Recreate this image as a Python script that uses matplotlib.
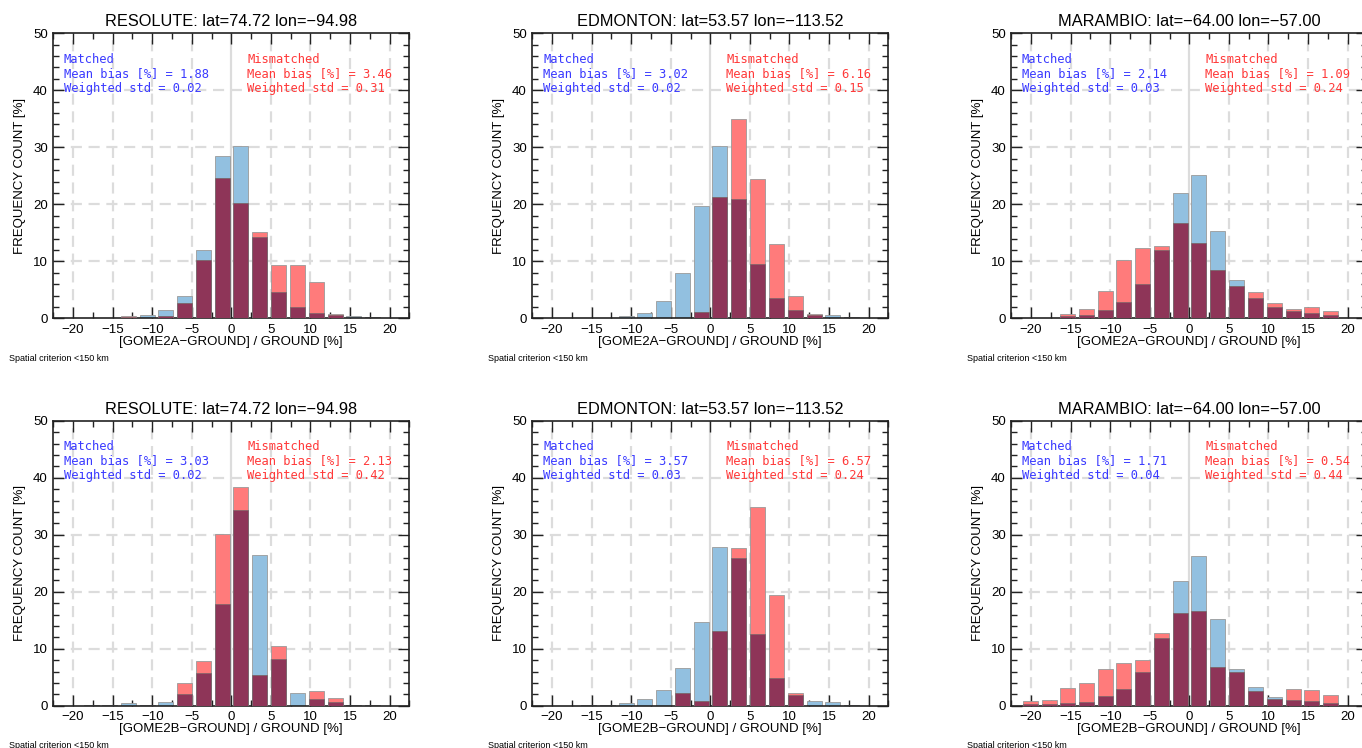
import numpy as np
import matplotlib
matplotlib.use("Agg")
import matplotlib.pyplot as plt
from matplotlib.ticker import MultipleLocator

plt.rcParams['font.family'] = ['Liberation Sans', 'DejaVu Sans']

# ---------------- data ----------------
bin_centers = [-20.1, -17.7, -15.4, -13.0, -10.6, -8.3, -5.9, -3.5, -1.1,
               1.2, 3.6, 6.0, 8.4, 10.8, 13.2, 15.5, 17.9]

stations = ["RESOLUTE: lat=74.72 lon=\u221294.98",
            "EDMONTON: lat=53.57 lon=\u2212113.52",
            "MARAMBIO: lat=\u221264.00 lon=\u221257.00"]
instruments = ["GOME2A", "GOME2B"]

# GOME2A row
res_a_matched    = [0.0, 0.1, 0.1, 0.2, 0.5, 1.5, 3.9, 12.0, 28.4, 30.2, 14.3, 4.6, 2.0, 0.9, 0.6, 0.4, 0.2]
res_a_mismatched = [0.0, 0.1, 0.1, 0.4, 0.0, 0.4, 2.6, 10.3, 24.6, 20.3, 15.1, 9.4, 9.4, 6.3, 0.8, 0.0, 0.0]
edm_a_matched    = [0.0, 0.0, 0.0, 0.1, 0.4, 1.0, 3.0, 8.0, 19.7, 30.2, 20.9, 9.6, 3.6, 1.5, 0.6, 0.5, 0.2]
edm_a_mismatched = [0.0, 0.0, 0.0, 0.0, 0.0, 0.0, 0.0, 0.0, 1.1, 21.2, 35.0, 24.5, 13.0, 4.0, 0.7, 0.0, 0.0]
mar_a_matched    = [0.0, 0.1, 0.4, 0.5, 1.4, 2.8, 6.0, 12.0, 22.0, 25.2, 15.3, 6.8, 3.6, 1.9, 1.2, 0.9, 0.5]
mar_a_mismatched = [0.0, 0.1, 0.8, 1.7, 4.8, 10.3, 12.3, 12.7, 16.8, 13.2, 8.4, 5.7, 4.6, 2.7, 1.7, 1.9, 1.3]

# GOME2B row
res_b_matched    = [0.0, 0.1, 0.2, 0.4, 0.05, 0.6, 2.0, 5.7, 17.8, 34.4, 26.4, 8.2, 2.2, 1.1, 0.6, 0.2, 0.2]
res_b_mismatched = [0.0, 0.0, 0.0, 0.0, 0.0, 0.0, 3.9, 7.9, 30.2, 38.3, 5.3, 10.5, 0.0, 2.6, 1.3, 0.0, 0.0]
edm_b_matched    = [0.0, 0.0, 0.1, 0.1, 0.4, 1.2, 2.8, 6.7, 14.6, 27.8, 26.0, 12.5, 4.9, 1.9, 0.8, 0.6, 0.2]
edm_b_mismatched = [0.0, 0.0, 0.0, 0.0, 0.0, 0.0, 0.0, 2.2, 0.8, 13.1, 27.7, 34.9, 19.5, 2.2, 0.0, 0.0, 0.0]
mar_b_matched    = [0.3, 0.3, 0.4, 0.6, 1.7, 3.0, 6.0, 11.9, 21.9, 26.3, 15.2, 6.5, 3.2, 1.6, 1.0, 0.8, 0.4]
mar_b_mismatched = [0.8, 1.0, 3.1, 3.9, 6.4, 7.5, 8.1, 12.7, 16.3, 16.6, 6.8, 6.0, 2.6, 1.2, 2.9, 2.7, 1.9]

matched_bias    = [["1.88", "3.02", "2.14"], ["3.03", "3.57", "1.71"]]
matched_std     = [["0.02", "0.02", "0.03"], ["0.02", "0.03", "0.04"]]
mismatched_bias = [["3.46", "6.16", "1.09"], ["2.13", "6.57", "0.54"]]
mismatched_std  = [["0.31", "0.15", "0.24"], ["0.42", "0.24", "0.44"]]

matched = [[res_a_matched, edm_a_matched, mar_a_matched],
           [res_b_matched, edm_b_matched, mar_b_matched]]
mismatched = [[res_a_mismatched, edm_a_mismatched, mar_a_mismatched],
              [res_b_mismatched, edm_b_mismatched, mar_b_mismatched]]

x_ticks = [-20, -15, -10, -5, 0, 5, 10, 15, 20]
y_ticks = [0, 10, 20, 30, 40, 50]

# ---------------- layout ----------------
W, H = 1362, 748
fig = plt.figure(figsize=(W / 100, H / 100), dpi=100)

col_left = [53.3, 532.3, 1011.3]
ax_w = 356.0
row_top = [33.3, 420.7]
ax_h = 285.0

BLUE = "#92c0e0"
RED = "#ff7b7b"
MAROON = "#8e3558"
GRID = "#dcdcdc"
TXT_BLUE = "#3a3aff"
TXT_RED = "#ff3a3a"

for r in range(2):
    for c in range(3):
        left = col_left[c] / W
        bottom = 1 - (row_top[r] + ax_h) / H
        ax = fig.add_axes([left, bottom, ax_w / W, ax_h / H])
        ax.set_xlim(-22.5, 22.5)
        ax.set_ylim(0, 50)

        # grid
        for xv in x_ticks:
            if xv == 0:
                ax.axvline(xv, color=GRID, lw=1.6, zorder=0)
            else:
                ax.axvline(xv, color=GRID, lw=1.6, ls=(0, (5, 3)), zorder=0)
        for yv in y_ticks[1:-1]:
            ax.axhline(yv, color=GRID, lw=1.6, ls=(0, (5, 3)), zorder=0)

        m = np.array(matched[r][c])
        mm = np.array(mismatched[r][c])
        both = np.minimum(m, mm)
        xs = np.array(bin_centers)
        bw = 1.9
        ax.bar(xs, m, width=bw, color=BLUE, edgecolor="#9a9a9a", linewidth=0.6, zorder=2)
        ax.bar(xs, mm, width=bw, color=RED, edgecolor="#9a9a9a", linewidth=0.6, zorder=3)
        ax.bar(xs, both, width=bw, color=MAROON, edgecolor="#6a6a6a", linewidth=0.4, zorder=4)

        # ticks
        ax.set_xticks(x_ticks)
        ax.set_xticklabels([str(v).replace('-', '\u2212') for v in x_ticks])
        ax.set_yticks(y_ticks)
        ax.set_yticklabels([str(v) for v in y_ticks])
        ax.xaxis.set_minor_locator(MultipleLocator(2.5))
        ax.yaxis.set_minor_locator(MultipleLocator(2))
        ax.tick_params(which='both', direction='in', top=True, right=True,
                       color='#222222', width=1.0)
        ax.tick_params(which='major', length=8, labelsize=9.5, pad=4)
        ax.tick_params(which='minor', length=4)
        for sp in ax.spines.values():
            sp.set_linewidth(1.2)
            sp.set_color('#222222')

        ax.set_xlabel("[%s\u2212GROUND] / GROUND [%%]" % instruments[r], fontsize=9.5, labelpad=0)
        ax.set_ylabel("FREQUENCY COUNT [%]", fontsize=9.5, labelpad=5)
        ax.text(0.5, 1 + 11.6 / ax_h, stations[c], transform=ax.transAxes,
                ha='center', va='center', fontsize=11.8)

        # annotations
        mono = dict(family='DejaVu Sans Mono', fontsize=8.7, transform=ax.transAxes, va='center')
        ys = [1 - 26.0 / ax_h, 1 - 40.0 / ax_h, 1 - 55.0 / ax_h]
        xl = 10.7 / ax_w
        xr = 194.0 / ax_w
        ax.text(xl, ys[0], "Matched", color=TXT_BLUE, **mono)
        ax.text(xl, ys[1], "Mean bias [%%] = %s" % matched_bias[r][c], color=TXT_BLUE, **mono)
        ax.text(xl, ys[2], "Weighted std = %s" % matched_std[r][c], color=TXT_BLUE, **mono)
        ax.text(xr, ys[0], "Mismatched", color=TXT_RED, **mono)
        ax.text(xr, ys[1], "Mean bias [%%] = %s" % mismatched_bias[r][c], color=TXT_RED, **mono)
        ax.text(xr, ys[2], "Weighted std = %s" % mismatched_std[r][c], color=TXT_RED, **mono)

        # footnote
        fig.text((col_left[c] - 44.0) / W, 1 - (row_top[r] + ax_h + 40.0) / H,
                 "Spatial criterion <150 km", fontsize=6.5, ha='left', va='center')

fig.savefig("out.png", dpi=100)
